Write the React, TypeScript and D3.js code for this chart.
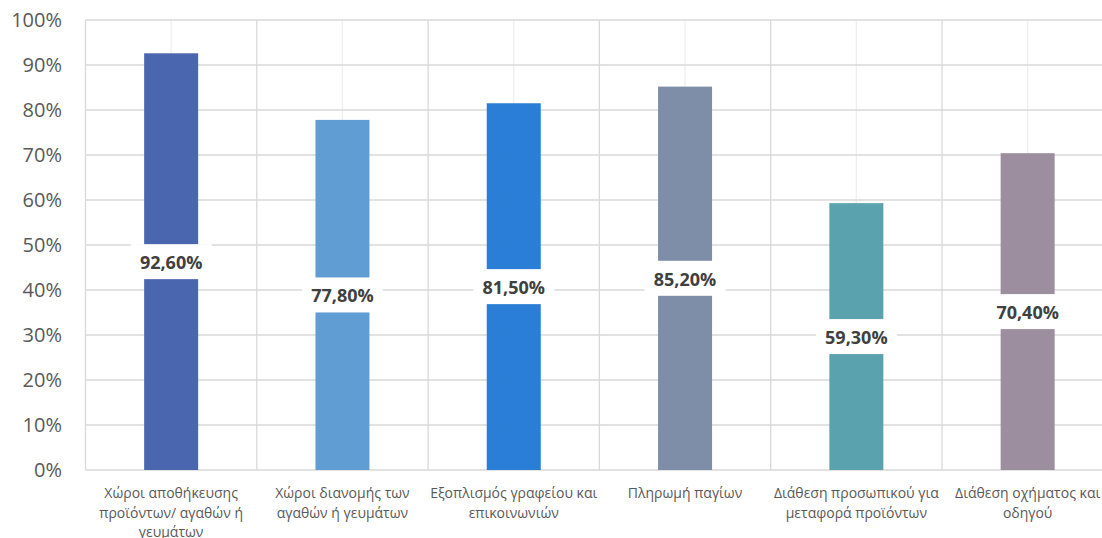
import React from "react";
import * as d3 from "d3";

const categories: string[][] = [
  ["Χώροι αποθήκευσης", "προϊόντων/ αγαθών ή", "γευμάτων"],
  ["Χώροι διανομής των", "αγαθών ή γευμάτων"],
  ["Εξοπλισμός γραφείου και", "επικοινωνιών"],
  ["Πληρωμή παγίων"],
  ["Διάθεση προσωπικού για", "μεταφορά προϊόντων"],
  ["Διάθεση οχήματος και", "οδηγού"],
];
const values: number[] = [92.6, 77.8, 81.5, 85.2, 59.3, 70.4];
const colors: string[] = ["#4a66ae", "#5f9dd3", "#2a7ed6", "#7f8ea8", "#5aa3ae", "#9d8e9f"];
const yTicks: number[] = [0, 10, 20, 30, 40, 50, 60, 70, 80, 90, 100];

const W = 1102;
const H = 538;
const left = 85.5;
const catW = 171.3;
const top = 20;
const bottom = 470;
const FONT = "'Open Sans', 'Noto Sans', sans-serif";

export default function App() {
  const idx = categories.map((_, i) => String(i));
  const x = d3.scaleBand<string>().domain(idx).range([left, left + catW * 6]).paddingInner(0).paddingOuter(0);
  const y = d3.scaleLinear().domain([0, 100]).range([bottom, top]);
  const barW = 54;
  const fmt = (v: number) => v.toFixed(2).replace(".", ",") + "%";

  return (
    <svg width={W} height={H} style={{ position: "absolute", left: 0, top: 0, background: "#fff" }} fontFamily={FONT}>
      {/* minor vertical gridlines */}
      {idx.map((k) => (
        <line key={"mv" + k} x1={x(k)! + x.bandwidth() / 2} x2={x(k)! + x.bandwidth() / 2} y1={top} y2={bottom} stroke="#efefef" strokeWidth={1.3} />
      ))}
      {/* horizontal gridlines */}
      {yTicks.map((t) => (
        <line key={"h" + t} x1={left} x2={left + catW * 6} y1={y(t)} y2={y(t)} stroke="#d9d9d9" strokeWidth={1.3} />
      ))}
      {/* major vertical gridlines */}
      {d3.range(7).map((i) => (
        <line key={"v" + i} x1={left + catW * i} x2={left + catW * i} y1={top} y2={bottom} stroke="#d9d9d9" strokeWidth={1.3} />
      ))}
      {/* y tick labels */}
      {yTicks.map((t) => (
        <text key={"yt" + t} x={62} y={y(t)} dy="0.36em" textAnchor="end" fontSize={20} fill="#595959">
          {t}%
        </text>
      ))}
      {/* bars */}
      {values.map((v, i) => {
        const cx = x(String(i))! + x.bandwidth() / 2;
        return <rect key={"b" + i} x={cx - barW / 2} y={y(v)} width={barW} height={bottom - y(v)} fill={colors[i]} />;
      })}
      {/* data labels */}
      {values.map((v, i) => {
        const cx = x(String(i))! + x.bandwidth() / 2;
        const cy = (y(v) + y(0)) / 2;
        return (
          <g key={"l" + i}>
            <rect x={cx - 40.5} y={cy - 17.5} width={81} height={35} fill="#fff" />
            <text x={cx} y={cy + 1} dy="0.36em" textAnchor="middle" fontSize={18} fontWeight={700} fill="#404040">
              {fmt(v)}
            </text>
          </g>
        );
      })}
      {/* category labels */}
      {categories.map((lines, i) => {
        const cx = x(String(i))! + x.bandwidth() / 2;
        return (
          <text key={"c" + i} textAnchor="middle" fontSize={14} fill="#595959">
            {lines.map((ln, j) => (
              <tspan key={j} x={cx} y={493 + j * 19.5} dy="0.36em">
                {ln}
              </tspan>
            ))}
          </text>
        );
      })}
    </svg>
  );
}
